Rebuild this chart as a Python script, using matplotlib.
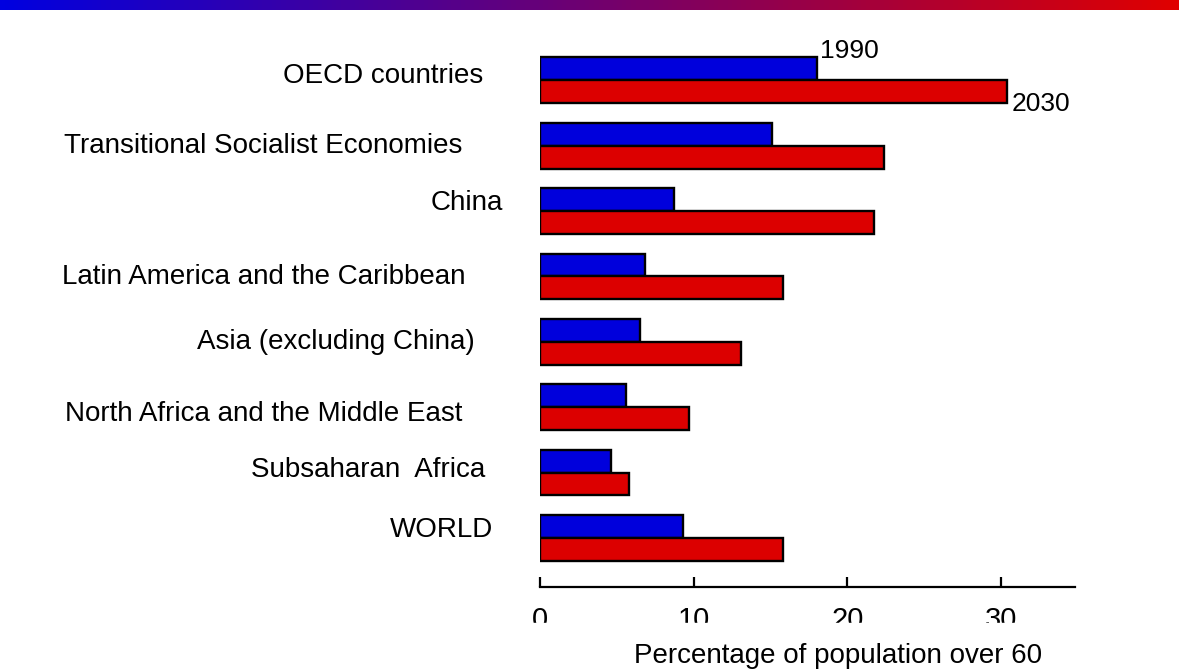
import numpy as np
import matplotlib
matplotlib.use("Agg")
import matplotlib.pyplot as plt
from matplotlib.patches import Rectangle

plt.rcParams['font.family'] = ['Liberation Sans', 'DejaVu Sans']

# data
regions = ["OECD countries", "Transitional Socialist Economies", "China",
           "Latin America and the Caribbean", "Asia (excluding China)",
           "North Africa and the Middle East", "Subsaharan  Africa", "WORLD"]
pct_1990 = [18.0, 15.1, 8.7, 6.8, 6.5, 5.6, 4.6, 9.3]
pct_2030 = [30.4, 22.4, 21.7, 15.8, 13.1, 9.7, 5.8, 15.8]
xticks = [0, 10, 20, 30]

# label placement (pixel offsets from the bar base), layout only
lab_dx = [-57, -78, -37, -75, -65, -78, -55, -47]
lab_dy = [4, 0, 8, -1, 0, -7, 3, 8]

blue = '#0000DC'
red = '#DC0000'

W, H = 1179, 672
fig = plt.figure(figsize=(W / 100, H / 100), dpi=100)

# gradient stripe at the top
gax = fig.add_axes([0, 1 - 10 / H, 1, 10 / H])
t = np.linspace(0, 1, 256)
grad = np.zeros((1, 256, 3))
grad[0, :, 0] = t * 224 / 255
grad[0, :, 2] = (1 - t) * 224 / 255
gax.imshow(grad, aspect='auto', extent=[0, 1, 0, 1])
gax.axis('off')

ax = fig.add_axes([540 / W, 1 - 587 / H, 535 / W, 546 / H])
y = np.arange(len(regions))
h = 0.35
ax.barh(y - h / 2, pct_1990, height=h, color=blue, edgecolor='black', linewidth=1.7)
ax.barh(y + h / 2, pct_2030, height=h, color=red, edgecolor='black', linewidth=1.7)

ax.set_xlim(0, 34.8)
ax.set_ylim(7.75, -0.6)

for s in ['top', 'right', 'left']:
    ax.spines[s].set_visible(False)
ax.spines['bottom'].set_linewidth(1.6)
ax.set_yticks([])
ax.set_xticks(xticks)
ax.set_xticklabels([str(v) for v in xticks])
ax.tick_params(axis='x', direction='in', length=7, width=1.6, labelsize=21, pad=14)

for i, name in enumerate(regions):
    ax.annotate(name, xy=(0, i), xytext=(lab_dx[i], lab_dy[i]),
                textcoords='offset pixels', ha='right', va='center', fontsize=20)

# series names next to the first pair of bars
ax.annotate("1990", xy=(pct_1990[0], -h), xytext=(3, 6), textcoords='offset pixels',
            ha='left', va='center', fontsize=19)
ax.annotate("2030", xy=(pct_2030[0], h), xytext=(4, -1), textcoords='offset pixels',
            ha='left', va='center', fontsize=19)

# tick labels are cut off at the bottom in the reference
fig.patches.append(Rectangle((500 / W, 1 - 640 / H), 620 / W, 17 / H,
                             transform=fig.transFigure, color='white', zorder=10))

fig.text(838 / W, 1 - 656 / H, "Percentage of population over 60",
         ha='center', va='center', fontsize=20)

fig.savefig("out.png", dpi=100)
